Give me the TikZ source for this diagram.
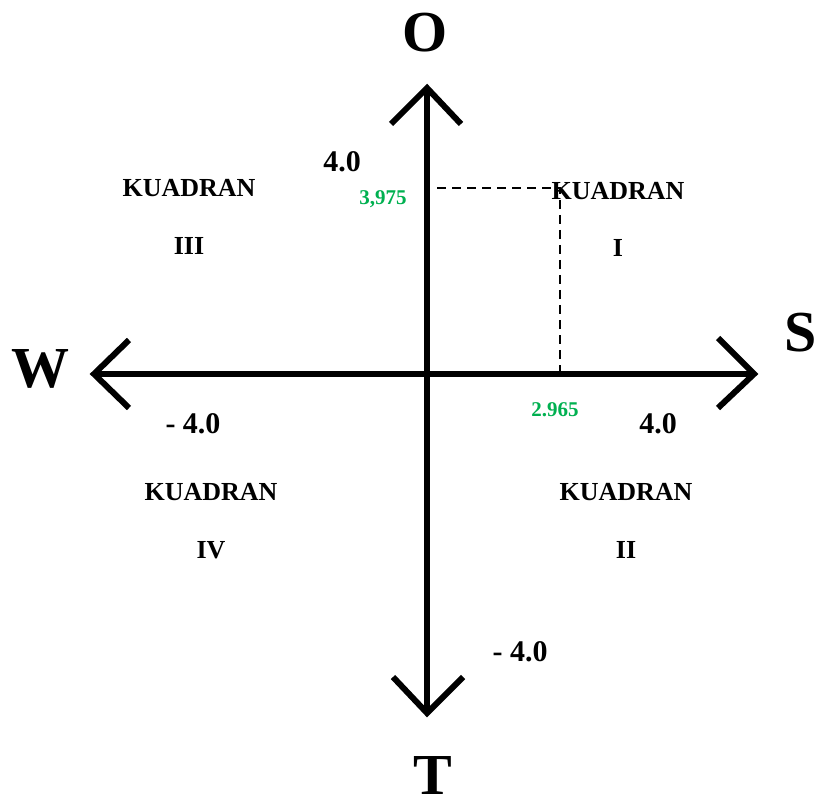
\documentclass[tikz,border=0pt]{standalone}
\usepackage{fontspec}
\setmainfont{Liberation Serif}
\usetikzlibrary{calc}
\definecolor{valgreen}{RGB}{0,176,80}
\begin{document}
\begin{tikzpicture}[x=1pt,y=-1pt,
  axis/.style={line width=6pt,line cap=butt},
  arm/.style={line width=6pt,line cap=butt,line join=miter},
  guide/.style={line width=2pt,dash pattern=on 9pt off 6pt},
  bigletter/.style={font=\bfseries\fontsize{58}{60}\selectfont,inner sep=0pt},
  quadlabel/.style={font=\bfseries\fontsize{26}{28}\selectfont,inner sep=0pt},
  ticklabel/.style={font=\bfseries\fontsize{30}{32}\selectfont,inner sep=0pt},
  vallabel/.style={font=\bfseries\fontsize{21}{23}\selectfont,text=valgreen,inner sep=0pt}]
\useasboundingbox (0,0) rectangle (819,802);
% axis end points
\coordinate (top) at (427,88);
\coordinate (bottom) at (427,713);
\coordinate (left) at (94,374);
\coordinate (right) at (754,374);
\coordinate (origin) at (427,374);
% axes
\draw[axis] (bottom) -- (top);
\draw[axis] (left) -- (right);
% arrow arms
\draw[arm] ($(top)+(-36,36)$) -- (top) -- ($(top)+(34,36)$);
\draw[arm] ($(bottom)+(-34,-36)$) -- (bottom) -- ($(bottom)+(36,-36)$);
\draw[arm] ($(left)+(35,-34)$) -- (left) -- ($(left)+(35,34)$);
\draw[arm] ($(right)+(-36,-36)$) -- (right) -- ($(right)+(-36,34)$);
% guide lines
\coordinate (ymark) at (437,188);
\coordinate (pt) at (560,188);
\coordinate (xmark) at (560,374);
\draw[guide] (ymark) -- (pt) -- (xmark);
% direction letters
\node[bigletter] (nO) at (425,33) {O};
\node[bigletter] (nW) at (41,369) {W};
\node[bigletter] (nS) at (801,333) {S};
\node[bigletter] (nT) at (433,776) {T};
% tick labels
\node[ticklabel] (t1) at (342,162) {4.0};
\node[ticklabel] (t2) at (658,424) {4.0};
\node[ticklabel] (t3) at (193,424) {- 4.0};
\node[ticklabel] (t4) at (520,652) {- 4.0};
% values
\node[vallabel] (v1) at (383,199) {3,975};
\node[vallabel] (v2) at (555,410) {2.965};
% quadrants
\node[quadlabel] (q1a) at (618,191) {KUADRAN};
\node[quadlabel] (q1b) at (618,248) {I};
\node[quadlabel] (q3a) at (189,188) {KUADRAN};
\node[quadlabel] (q3b) at (189,246) {III};
\node[quadlabel] (q4a) at (211,492) {KUADRAN};
\node[quadlabel] (q4b) at (211,550) {IV};
\node[quadlabel] (q2a) at (626,492) {KUADRAN};
\node[quadlabel] (q2b) at (626,550) {II};
\end{tikzpicture}
\end{document}
